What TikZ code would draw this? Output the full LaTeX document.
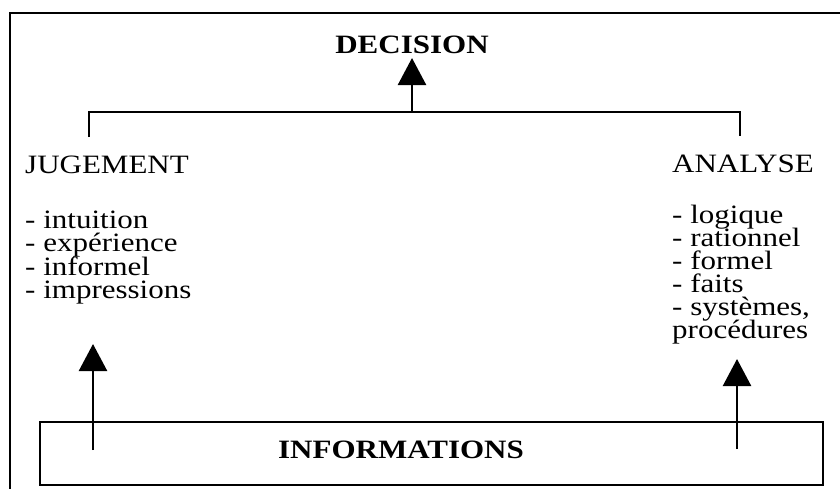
\documentclass[tikz,border=0pt]{standalone}
\usepackage{fontspec}
\setmainfont{Liberation Serif}[FakeStretch=1.17]
\usetikzlibrary{arrows.meta}

\tikzset{
  txt/.style={inner sep=0pt, text height=15pt, text depth=4pt,
    font=\fontsize{26.5}{23}\selectfont},
  bold/.style={txt, font=\fontsize{26.5}{23}\selectfont\bfseries},
  frame/.style={line width=2.8pt},
  link/.style={line width=2.4pt},
  uparrow/.style={link, -{Triangle[length=27pt, width=28pt]}},
}

\begin{document}
\begin{tikzpicture}[x=1pt, y=-1pt]
  \useasboundingbox (0,0) rectangle (840,488);
  \clip (0,0) rectangle (840,488);

  % outer frame (runs past the right and bottom edges)
  \draw[frame] (860,13) -- (10,13) -- (10,520);

  % top label and the two branches
  \node[bold, anchor=base] (decision) at (412,53) {DECISION};
  \node[txt, anchor=base west] (jug) at (25,173) {JUGEMENT};
  \node[txt, anchor=base west] (ana) at (672,172) {ANALYSE};

  % left list
  \foreach \t [count=\i] in {- intuition, - expérience, - informel, - impressions}
    \node[txt, anchor=base west] (l\i) at (25,{228+23.6*(\i-1)}) {\t};

  % right list
  \foreach \t [count=\i] in {- logique, - rationnel, - formel, - faits, - systèmes{,}, procédures}
    \node[txt, anchor=base west] (r\i) at (672,{223+23*(\i-1)}) {\t};

  % bracket joining both branches
  \coordinate (bl) at (89,137);
  \coordinate (br) at (740,136);
  \coordinate (bm) at (412,112);
  \draw[link] (bl) -- (bl |- bm) -- (br |- bm) -- (br);
  \coordinate (dtip) at (412,58);
  \draw[uparrow] (bm) -- (dtip);

  % information box
  \node[draw, frame, minimum width=783pt, minimum height=63pt, inner sep=0pt]
    (info) at (431.5,453.5) {};
  \node[bold, anchor=base] (infotext) at (401,458) {INFORMATIONS};

  % arrows from the box up to each branch
  \coordinate (js) at (93,450);
  \coordinate (jt) at (93,344);
  \coordinate (as) at (737,449);
  \coordinate (at) at (737,359);
  \draw[uparrow] (js) -- (jt);
  \draw[uparrow] (as) -- (at);
\end{tikzpicture}
\end{document}
